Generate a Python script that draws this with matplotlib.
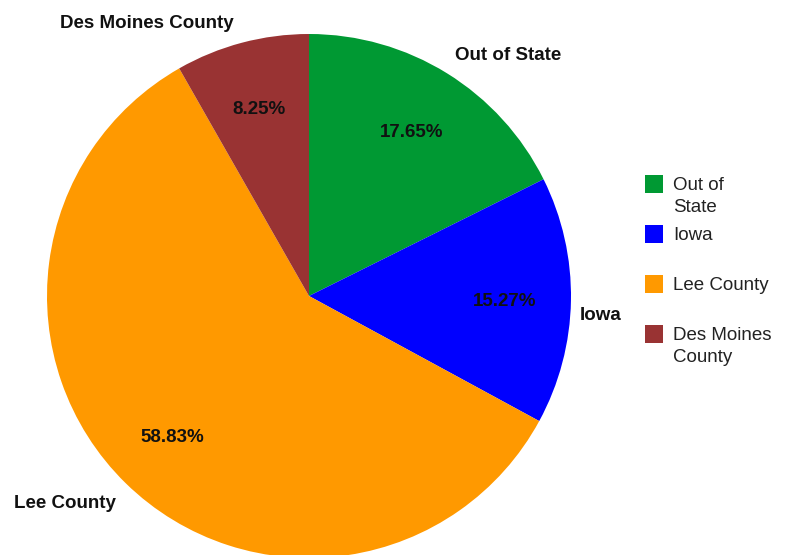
import matplotlib.pyplot as plt
from matplotlib.patches import Rectangle
import numpy as np

plt.rcParams['font.family'] = ['Liberation Sans', 'DejaVu Sans']

# data
categories = ["Out of State", "Iowa", "Lee County", "Des Moines County"]
legend_labels = ["Out of\nState", "Iowa", "Lee County", "Des Moines\nCounty"]
shares = [17.65, 15.27, 58.83, 8.25]
colors = ["#009933", "#0000FF", "#FF9900", "#993333"]

# outside label anchors (pixel centres in the 789x555 frame)
label_pos = [(508, 55), (601, 315), (65, 503), (147, 23)]

W, H = 789, 555
fig = plt.figure(figsize=(W / 100, H / 100), dpi=100)
ax = fig.add_axes([0, 0, 1, 1])

cx, cy, r = 309, H - 296, 262
wedges, texts = ax.pie(shares, colors=colors, startangle=90, counterclock=False,
                       center=(cx, cy), radius=r, frame=True,
                       wedgeprops=dict(linewidth=0))
ax.set_xlim(0, W)
ax.set_ylim(0, H)
ax.set_aspect('equal')
ax.axis('off')

# percentage labels inside slices
for w, val in zip(wedges, shares):
    mid = np.deg2rad((w.theta1 + w.theta2) / 2)
    ax.text(cx + 0.745 * r * np.cos(mid), cy + 0.745 * r * np.sin(mid) - 2,
            f"{val:.2f}%", ha='center', va='center', fontsize=13.5,
            fontweight='bold', color='#111111')

# slice names outside
for name, (px, py) in zip(categories, label_pos):
    ax.text(px, H - py, name, ha='center', va='center', fontsize=13.5,
            fontweight='bold', color='#111111')

# legend
for i, (lab, col) in enumerate(zip(legend_labels, colors)):
    top = 175 + i * 50
    ax.add_patch(Rectangle((645, H - top - 18), 18, 18, facecolor=col,
                           edgecolor='none', clip_on=False))
    ax.text(673, H - top - 2, lab, ha='left', va='top', fontsize=13.5,
            color='#222222', linespacing=1.38)

fig.savefig("out.png", dpi=100)
